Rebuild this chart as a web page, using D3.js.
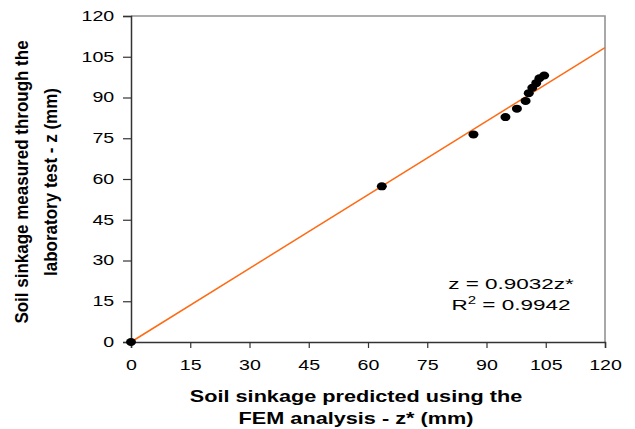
<!DOCTYPE html>
<html>
<head>
<meta charset="utf-8">
<script src="https://cdn.jsdelivr.net/npm/d3@7"></script>
<style>
    body { margin: 0; background: #fff; }
    svg { display: block; font-family: "Liberation Sans", Arial, sans-serif; }
</style>
</head>
<body>
<svg id="chart" width="635" height="429"></svg>
<script>
// predicted (FEM) vs measured (lab) soil sinkage, mm
const predicted = [0, 63.5, 86.7, 94.8, 97.7, 99.9, 100.7, 101.6, 102.6, 103.4, 104.6];
const measured  = [0, 57.3, 76.4, 82.8, 85.9, 88.7, 91.6, 93.6, 95.3, 97.1, 98.1];
const ticks = [0, 15, 30, 45, 60, 75, 90, 105, 120];
const slope = 0.9032;

// the original figure is stretched sideways, so text gets a horizontal scale
const stretch = 1.4;

let margin = { top: 16, right: 30, bottom: 87, left: 131 };
let width = 635 - margin.left - margin.right;
let height = 429 - margin.top - margin.bottom;

let svg = d3.select("#chart");
let g = svg.append("g")
    .attr("transform", `translate(${margin.left}, ${margin.top})`);

let x = d3.scaleLinear().domain([0, 120]).range([0, width]);
let y = d3.scaleLinear().domain([0, 120]).range([height, 0]);

// top and right frame
g.append("path")
    .attr("d", `M0,0H${width}V${height}`)
    .attr("fill", "none")
    .attr("stroke", "#939393")
    .attr("stroke-width", 1.6);

// axes
let xAxis = g.append("g")
    .attr("transform", `translate(0, ${height})`)
    .call(d3.axisBottom(x).tickValues(ticks).tickSize(6));

let yAxis = g.append("g")
    .call(d3.axisLeft(y).tickValues(ticks).tickSize(8));

[xAxis, yAxis].forEach(a => {
    a.select(".domain").attr("stroke", "#333").attr("stroke-width", 1.5);
    a.selectAll(".tick line").attr("stroke", "#333").attr("stroke-width", 1.2);
    a.selectAll(".tick text")
        .attr("fill", "#000")
        .style("font-size", "14px")
        .style("font-family", "'Liberation Sans', Arial, sans-serif")
        .attr("transform", `scale(${stretch},1)`);
});
xAxis.selectAll(".tick text").attr("y", 18).attr("dy", "0.71em");
yAxis.selectAll(".tick text").attr("x", -12);

// regression line through origin
g.append("line")
    .attr("x1", x(0))
    .attr("y1", y(0))
    .attr("x2", x(120))
    .attr("y2", y(120 * slope))
    .attr("stroke", "#ff6a13")
    .attr("stroke-width", 1.5);

// points
g.selectAll(".pt")
    .data(predicted.map((d, i) => ({ p: d, m: measured[i] })))
    .join("ellipse")
    .attr("class", "pt")
    .attr("cx", d => x(d.p))
    .attr("cy", d => y(d.m))
    .attr("rx", 5)
    .attr("ry", 4)
    .attr("fill", "#000");

// equation
let eqGroup = svg.append("g")
    .attr("transform", "translate(511, 0) scale(1.5,1)")
    .attr("text-anchor", "middle")
    .style("font-size", "15px");

eqGroup.append("text")
    .attr("x", 0)
    .attr("y", 289)
    .text("z = 0.9032z*");

let r2 = eqGroup.append("text")
    .attr("x", 0)
    .attr("y", 310);
r2.append("tspan").text("R");
r2.append("tspan").attr("dy", -6).style("font-size", "10px").text("2");
r2.append("tspan").attr("dy", 6).text(" = 0.9942");

// x axis title
let xTitle = svg.append("text")
    .attr("transform", "translate(356, 0) scale(1.355,1)")
    .attr("text-anchor", "middle")
    .style("font-size", "16px")
    .style("font-weight", "bold");
xTitle.append("tspan")
    .attr("x", 0).attr("y", 402)
    .text("Soil sinkage predicted using the");
xTitle.append("tspan")
    .attr("x", 0).attr("y", 424)
    .text("FEM analysis - z* (mm)");

// y axis title
let yTitle = svg.append("text")
    .attr("transform", "translate(0, 182) scale(1.1,1) rotate(-90)")
    .attr("text-anchor", "middle")
    .style("font-size", "17px")
    .style("font-weight", "bold");
yTitle.append("tspan")
    .attr("x", 0).attr("y", 25.5)
    .text("Soil sinkage measured through the");
yTitle.append("tspan")
    .attr("x", 0).attr("y", 51.8)
    .text("laboratory test - z (mm)");
</script>
</body>
</html>
